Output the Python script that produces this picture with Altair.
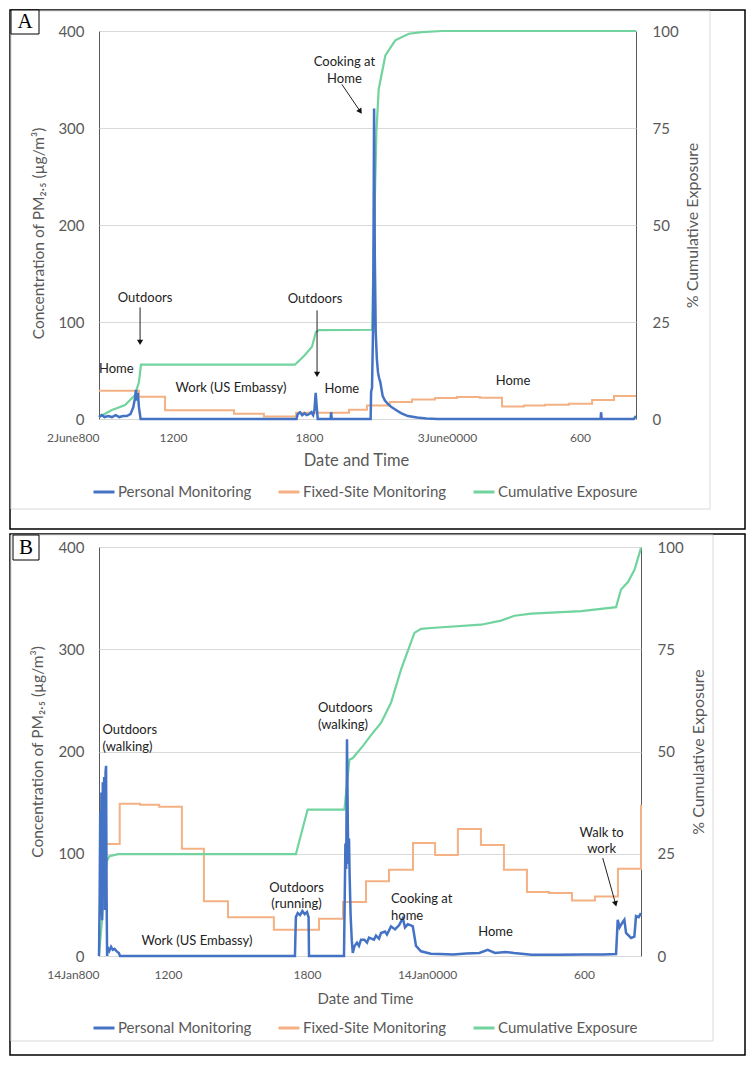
import altair as alt
import pandas as pd

SERIES = ["Personal Monitoring", "Fixed-Site Monitoring", "Cumulative Exposure"]
COLORS = ["#4472C4", "#F4B183", "#71D39E"]
FONT = "Lato"
GRAY = "#595959"

# ---------------- Panel A (2 June) ----------------
a_ticks = [8, 12, 18, 24, 30]
a_tick_labels = ["2June800", "1200", "1800", "3June0000", "600"]

a_pers_h = [8.00, 8.15, 8.30, 8.50, 8.70, 8.90, 9.10, 9.30, 9.50, 9.70,
            9.85, 9.95, 10.00, 10.05, 10.10, 10.16, 10.25,
            17.45, 17.50, 17.60, 17.70, 17.80, 17.90, 18.00, 18.10, 18.18, 18.24,
            18.29, 18.33, 18.38, 18.94, 18.96, 18.99,
            20.68, 20.70, 20.74, 20.79, 20.83, 20.86, 20.90,
            20.95, 21.00, 21.05, 21.10, 21.20, 21.30, 21.45, 21.60, 21.80, 22.00,
            22.30, 22.70, 23.10, 23.60, 30.92, 30.94, 30.97, 32.40, 32.50]
a_pers_v = [2, 4, 2, 3, 2, 4, 2, 3, 3, 5,
            12, 22, 30, 19, 27, 12, 0,
            0, 5, 7, 4, 6, 4, 5, 7, 4, 10,
            27, 14, 0, 0, 7, 0,
            0, 28, 32, 100, 320, 170, 90,
            62, 48, 42, 38, 24, 19, 15, 12, 9, 6,
            3, 1.5, 0.5, 0, 0, 7, 0, 0, 3]

a_fix_h = [8.00, 10.16, 11.57, 14.69, 16.01, 17.43, 19.74, 20.52, 21.52, 22.48,
           23.48, 24.45, 25.48, 26.48, 27.47, 28.42, 29.50, 30.54, 31.52, 32.50]
a_fix_v = [29, 23, 9, 5.5, 2.5, 6.5, 9.6, 14, 17.5, 20,
           21.6, 22.7, 22, 13, 14, 14.7, 15.8, 19.6, 23.7, 23.7]

a_cum_h = [8.00, 8.70, 9.41, 9.95, 10.16, 10.27, 17.38, 17.82, 18.13, 18.30,
           18.43, 20.74, 20.84, 20.93, 21.03, 21.32, 21.75, 22.34, 22.91, 23.78, 32.50]
a_cum_v = [0.5, 2.3, 3.6, 6.2, 9.5, 14.0, 14.0, 16.5, 18.6, 22.4,
           22.9, 23.0, 50.8, 74, 85, 93.7, 97.6, 99.3, 99.7, 100, 100]

a_ann_text = ["Home", "Outdoors", "Work (US Embassy)", "Outdoors", "Home", "Cooking at\nHome", "Home"]
a_ann_h = [8.0, 10.49, 14.56, 18.26, 19.43, 19.54, 26.98]
a_ann_v = [51.5, 125, 32, 124, 31, 368, 39]
a_ann_align = ["left", "center", "center", "center", "center", "center", "center"]

a_arr_h1 = [10.22, 18.35, 19.43]
a_arr_v1 = [115, 112, 345]
a_arr_h2 = [10.22, 18.35, 20.23]
a_arr_v2 = [79, 46, 317]
a_arr_ang = [0, 0, 326]

# ---------------- Panel B (14 Jan) ----------------
b_ticks = [8, 12, 18, 24, 30]
b_tick_labels = ["14Jan800", "1200", "1800", "14Jan0000", "600"]

b_pers_h = [8.00, 8.04, 8.07, 8.10, 8.14, 8.18, 8.22, 8.26, 8.30, 8.34,
            8.38, 8.41, 8.44, 8.47, 8.51, 8.60, 8.70, 8.80, 8.90, 9.00,
            9.15, 9.22,
            17.48, 17.52, 17.60, 17.70, 17.80, 17.90, 18.00, 18.08, 18.10,
            19.85, 19.92, 19.96, 20.00, 20.04, 20.07, 20.10, 20.13, 20.18, 20.24,
            20.29, 20.37, 20.50, 20.60, 20.70, 20.87, 21.00, 21.10, 21.35, 21.45,
            21.60, 21.70, 21.90, 22.00, 22.20, 22.40, 22.60, 22.79, 22.90, 23.04,
            23.20, 23.29, 23.45, 23.70,
            24.15, 24.50, 25.00, 25.50, 26.00, 26.32, 26.60, 27.00, 27.32, 28.00,
            29.00, 30.00, 30.80, 31.35,
            31.42, 31.50, 31.56, 31.70, 31.77, 31.98, 32.12, 32.19, 32.30, 32.40]
b_pers_v = [0, 60, 140, 40, 160, 35, 170, 60, 175, 45,
            180, 186, 60, 0, 8, 5, 9, 6, 7, 5,
            3, 0,
            0, 38, 42, 40, 44, 41, 43, 38, 0,
            0, 110, 85, 212, 130, 90, 115, 80, 40, 15,
            3, 9.5, 13, 10, 16, 16, 13, 18, 16, 20,
            17, 22.5, 24, 21, 29, 26, 30, 37, 28, 31,
            30, 29, 9.8, 4.6,
            2.3, 2, 1.5, 2.5, 3, 6, 3, 4, 3, 1.3,
            1.3, 1.5, 1.5, 2,
            35.5, 28, 30.6, 35.5, 22.5, 17.6, 19, 39, 38, 42]

b_fix_h = [8.00, 9.20, 10.38, 11.49, 12.60, 13.55, 14.59, 16.57, 18.60, 19.80,
           20.95, 22.10, 23.30, 24.31, 25.18, 26.06, 26.94, 27.82, 28.66, 29.54,
           30.46, 31.43, 32.40]
b_fix_v = [109.5, 149, 148, 146, 105, 53.5, 38, 25.7, 36.5, 52.8,
           73, 84.4, 110.5, 98.8, 124.2, 108.6, 84.4, 62.6, 61.6, 54.4,
           58.3, 85.4, 148]

b_cum_h = [8.00, 8.20, 8.44, 8.61, 9.11, 17.52, 18.03, 19.87, 20.00, 20.12,
           20.29, 20.79, 21.20, 21.70, 22.20, 22.70, 23.37, 23.70, 24.15, 26.06,
           26.83, 27.34, 27.98, 29.89, 31.35, 31.56, 31.86, 32.13, 32.40]
b_cum_v = [0.3, 10, 23.1, 24.4, 24.9, 24.9, 35.8, 35.8, 42, 48,
           48.4, 51.3, 54, 57, 61.9, 70, 79, 80, 80.2, 81,
           82, 83.2, 83.7, 84.3, 85.3, 89.6, 91.5, 94.5, 99.8]

b_ann_text = ["Outdoors\n(walking)", "Work (US Embassy)", "Outdoors\n(running)",
              "Outdoors\n(walking)", "Cooking at\nhome", "Home", "Walk to\nwork"]
b_ann_h = [8.20, 13.25, 17.55, 18.55, 22.20, 26.62, 30.74]
b_ann_v = [221, 14.4, 66.8, 242.5, 55.7, 23.2, 120.6]
b_ann_align = ["left", "center", "center", "left", "left", "center", "center"]

b_arr_h1 = [30.79]
b_arr_v1 = [95.8]
b_arr_h2 = [31.33]
b_arr_v2 = [51]
b_arr_ang = [345]


def label_expr(vals, labels):
    expr = "''"
    for v, l in reversed(list(zip(vals, labels))):
        expr = f"datum.value == {v} ? '{l}' : ({expr})"
    return expr


ONE = alt.Data(values=[{"k": 1}])


def rect(x1, x2, y1, y2, stroke, sw, fill="transparent"):
    return alt.Chart(ONE).mark_rect(stroke=stroke, strokeWidth=sw, fill=fill).encode(
        x=alt.value(x1), x2=alt.value(x2), y=alt.value(y1), y2=alt.value(y2))


def panel(c):
    W, H = c["W"], c["H"]
    xs = alt.Scale(domain=c["xdom"], range=c["xrng"], nice=False, zero=False)
    xaxis = alt.Axis(values=c["ticks"], labelExpr=label_expr(c["ticks"], c["tick_labels"]),
                     labelAlign={"condition": {"test": "datum.value <= 8", "value": "right"}, "value": "center"},
                     labelFontSize=12, labelColor=GRAY, labelPadding=c["xlabpad"], ticks=False,
                     domain=False, grid=False, labelOverlap=False, labelFlush=False,
                     title="Date and Time", titleFontSize=c["xtitlesize"], titleColor=GRAY,
                     titleFontWeight="normal", titleX=c["xtitle_x"], titleY=c["xtitle_y"],
                     titleBaseline="middle", titleAlign="center")
    x = alt.X("hour:Q", scale=xs, axis=xaxis)
    ys = alt.Scale(domain=[0, 400], nice=False, zero=True)
    yaxis = alt.Axis(values=[0, 100, 200, 300, 400], labelFontSize=15, labelColor=GRAY,
                     labelPadding=15, ticks=False, domain=False, grid=True, gridColor="#D9D9D9",
                     title="Concentration of PM₂.₅ (µg/m³)", titleFontSize=15.5, titleColor=GRAY,
                     titleFontWeight="normal", titleAngle=270, titleX=c["ytitle_x"],
                     titleY=c["ytitle_y"], titleBaseline="middle", titleAlign="center")
    y = alt.Y("value:Q", scale=ys, axis=yaxis)
    y_na = alt.Y("value:Q", scale=ys, axis=None)
    raxis = alt.Axis(orient="right", values=[0, 25, 50, 75, 100], labelFontSize=15,
                     labelColor=GRAY, labelPadding=16, ticks=False, domain=False, grid=False,
                     title="% Cumulative Exposure", titleFontSize=16, titleColor=GRAY,
                     titleFontWeight="normal", titleAngle=270, titleX=c["rtitle_x"],
                     titleY=H / 2, titleBaseline="middle", titleAlign="center")
    yr = alt.Y("pct:Q", scale=alt.Scale(domain=[0, 100], nice=False), axis=raxis)
    legend = alt.Legend(orient="none", legendX=c["legx"], legendY=c["legy"], direction="horizontal",
                        title=None, symbolType="stroke", symbolSize=440, symbolStrokeWidth=3,
                        labelFontSize=15, labelColor=GRAY, columnPadding=c["colpad"], labelOffset=2,
                        padding=0)
    color = alt.Color("series:N", scale=alt.Scale(domain=SERIES, range=COLORS), legend=legend)

    pers = pd.DataFrame({"hour": c["pers_h"], "value": c["pers_v"], "series": SERIES[0]})
    fix = pd.DataFrame({"hour": c["fix_h"], "value": c["fix_v"], "series": SERIES[1]})
    cum = pd.DataFrame({"hour": c["cum_h"], "pct": c["cum_v"], "series": SERIES[2]})
    ann = pd.DataFrame({"hour": c["ann_h"], "value": c["ann_v"], "label": c["ann_text"],
                        "align": c["ann_align"]})
    arr = pd.DataFrame({"hour": c["arr_h1"], "value": c["arr_v1"], "h2": c["arr_h2"],
                        "v2": c["arr_v2"], "ang": c["arr_ang"]})

    fix_line = alt.Chart(fix).mark_line(interpolate="step-after", strokeWidth=2).encode(
        x=x, y=y_na, color=color)
    cum_line = alt.Chart(cum).mark_line(strokeWidth=2.2).encode(x=x, y=yr, color=color)
    pers_line = alt.Chart(pers).mark_line(strokeWidth=2.5).encode(x=x, y=y, color=color)

    txt_kw = dict(font=FONT, fontSize=13, color="#222222", lineBreak="\n", baseline="middle",
                  lineHeight=16.5)
    ann_c = alt.Chart(ann).transform_filter("datum.align == 'center'").mark_text(
        align="center", **txt_kw).encode(x=x, y=y_na, text="label:N")
    ann_l = alt.Chart(ann).transform_filter("datum.align == 'left'").mark_text(
        align="left", **txt_kw).encode(x=x, y=y_na, text="label:N")
    rules = alt.Chart(arr).mark_rule(color="#222222", strokeWidth=1).encode(
        x=x, x2=alt.X2("h2:Q"), y=y_na, y2=alt.Y2("v2:Q"))
    heads = alt.Chart(arr).mark_point(shape="triangle-down", filled=True, size=38,
                                      color="#111111", opacity=1).encode(
        x=alt.X("h2:Q", scale=xs, axis=xaxis), y=alt.Y("v2:Q", scale=ys, axis=None),
        angle=alt.Angle("ang:Q", scale=None))

    f = c["frames"]
    outer = rect(*f["outer"], "#000000", 1.5)
    area = rect(*f["area"], "#D9D9D9", 1)
    box = rect(*f["box"], "#000000", 1, fill="#FFFFFF")
    letter = alt.Chart(ONE).mark_text(text=c["letter"], font="Liberation Serif", fontSize=21,
                                      color="#000000", align="center", baseline="middle").encode(
        x=alt.value(f["letter"][0]), y=alt.value(f["letter"][1]))

    return alt.layer(outer, area, box, letter, fix_line, cum_line, pers_line,
                     ann_c, ann_l, rules, heads).resolve_scale(y="independent").properties(
        width=W, height=H)


A = panel(dict(
    W=537, H=388, xdom=[8, 12, 18, 24, 30, 32.5], xrng=[0, 74, 210, 348, 481, 537],
    ticks=a_ticks, tick_labels=a_tick_labels, xlabpad=13, xtitlesize=16.5,
    xtitle_x=257, xtitle_y=41, ytitle_x=-61, ytitle_y=202, rtitle_x=56,
    legx=-7, legy=449, colpad=20,
    pers_h=a_pers_h, pers_v=a_pers_v, fix_h=a_fix_h, fix_v=a_fix_v, cum_h=a_cum_h, cum_v=a_cum_v,
    ann_h=a_ann_h, ann_v=a_ann_v, ann_text=a_ann_text, ann_align=a_ann_align,
    arr_h1=a_arr_h1, arr_v1=a_arr_v1, arr_h2=a_arr_h2, arr_v2=a_arr_v2, arr_ang=a_arr_ang,
    letter="A",
    frames=dict(outer=(-89, 646, -21, 498), area=(-88, 611, -20, 478), box=(-88, -60, -21, 3),
                letter=(-74, -9)),
))

B = panel(dict(
    W=542, H=409, xdom=[8, 12, 18, 24, 30, 32.4], xrng=[0, 69, 208, 328, 485, 542],
    ticks=b_ticks, tick_labels=b_tick_labels, xlabpad=13, xtitlesize=15,
    xtitle_x=266, xtitle_y=42, ytitle_x=-62, ytitle_y=204.5, rtitle_x=57,
    legx=-7, legy=469, colpad=20,
    pers_h=b_pers_h, pers_v=b_pers_v, fix_h=b_fix_h, fix_v=b_fix_v, cum_h=b_cum_h, cum_v=b_cum_v,
    ann_h=b_ann_h, ann_v=b_ann_v, ann_text=b_ann_text, ann_align=b_ann_align,
    arr_h1=b_arr_h1, arr_v1=b_arr_v1, arr_h2=b_arr_h2, arr_v2=b_arr_v2, arr_ang=b_arr_ang,
    letter="B",
    frames=dict(outer=(-89, 646, -13, 508), area=(-88, 614, -12, 494), box=(-86, -60, -12, 13),
                letter=(-73, 1)),
))

chart = alt.concat(A, B, columns=1, spacing=1, align="none", bounds="full").resolve_scale(
    x="independent", y="independent", color="independent"
).resolve_legend(color="independent").properties(padding=0).configure(
    font=FONT
).configure_view(stroke="#595959", strokeWidth=1).configure_axis(
    labelFont=FONT, titleFont=FONT
).configure_legend(labelFont=FONT)

chart.save("out.html", embed_options={"renderer": "svg", "actions": False})
